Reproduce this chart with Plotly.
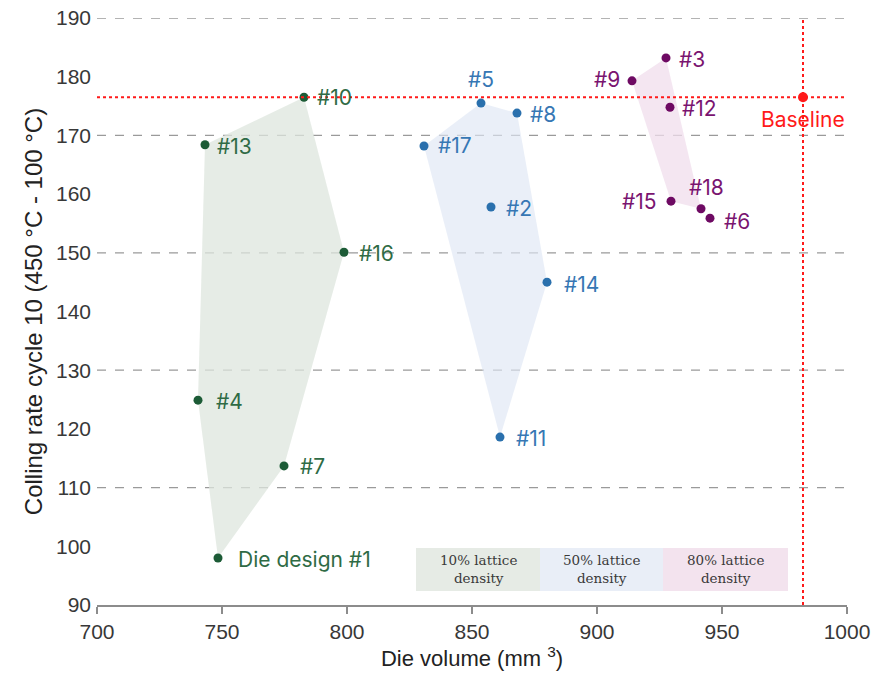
import plotly.graph_objects as go

# Die designs grouped by lattice density: die volume (mm^3) vs cooling rate
green_names = ["#10", "#13", "#16", "#4", "#7", "Die design #1"]
green_x = [782.8, 743.2, 798.8, 740.4, 774.8, 748.4]
green_y = [176.5, 168.4, 150.1, 124.9, 113.7, 98.0]

blue_names = ["#5", "#8", "#17", "#2", "#14", "#11"]
blue_x = [853.6, 868.0, 830.8, 857.6, 880.0, 861.2]
blue_y = [175.5, 173.8, 168.2, 157.8, 145.0, 118.6]

purple_names = ["#3", "#9", "#12", "#15", "#18", "#6"]
purple_x = [927.6, 914.0, 929.2, 929.6, 941.6, 945.2]
purple_y = [183.2, 179.3, 174.8, 158.8, 157.5, 155.9]

baseline_x = 982.4
baseline_y = 176.5

# outline order of each shaded region (indices into the group lists)
green_outline = [5, 4, 2, 0, 1, 3]
blue_outline = [5, 4, 1, 0, 2]
purple_outline = [1, 0, 4, 3]

legend_labels = ["10% lattice<br>density", "50% lattice<br>density", "80% lattice<br>density"]
legend_x = [827.6, 877.2, 926.4, 976.4]
legend_y = [92.4, 99.7]

x_ticks = [700, 750, 800, 850, 900, 950, 1000]
y_ticks = [90, 100, 110, 120, 130, 140, 150, 160, 170, 180, 190]
grid_y = [110, 130, 150, 170, 190]

GREEN, GREEN_TXT, GREEN_FILL = "#1c5b36", "#2f6b45", "rgba(222,230,222,0.75)"
BLUE, BLUE_TXT, BLUE_FILL = "#2a70ad", "#3677b4", "rgba(222,230,244,0.65)"
PURPLE, PURPLE_TXT, PURPLE_FILL = "#6e0a63", "#7a1470", "rgba(240,222,236,0.75)"
RED = "#ff1a1a"
LABEL_FONT = "Inter"
AXIS_FONT = "Liberation Sans"

fig = go.Figure()

# shaded regions
for xs, ys, order, fill in [
    (green_x, green_y, green_outline, GREEN_FILL),
    (blue_x, blue_y, blue_outline, BLUE_FILL),
    (purple_x, purple_y, purple_outline, PURPLE_FILL),
]:
    px = [xs[i] for i in order] + [xs[order[0]]]
    py = [ys[i] for i in order] + [ys[order[0]]]
    fig.add_trace(go.Scatter(x=px, y=py, mode="lines", fill="toself",
                             fillcolor=fill, line=dict(width=0),
                             hoverinfo="skip", showlegend=False))

# density key boxes
legend_fills = ["rgb(230,235,229)", "rgb(233,238,247)", "rgb(243,227,238)"]
for i, lab in enumerate(legend_labels):
    fig.add_shape(type="rect", x0=legend_x[i], x1=legend_x[i + 1],
                  y0=legend_y[0], y1=legend_y[1], fillcolor=legend_fills[i],
                  line=dict(width=0), layer="below")
    fig.add_annotation(x=(legend_x[i] + legend_x[i + 1]) / 2,
                       y=(legend_y[0] + legend_y[1]) / 2, text=lab,
                       showarrow=False,
                       font=dict(family="DejaVu Serif", size=13.5, color="#3a3a3a"))

# horizontal dashed grid
for gy in grid_y:
    fig.add_shape(type="line", xref="paper", x0=0, x1=1, y0=gy, y1=gy,
                  line=dict(color="#9a9a9a", width=1.3, dash="dash"), layer="below")

# baseline reference lines
fig.add_shape(type="line", xref="paper", x0=0, x1=1, y0=baseline_y, y1=baseline_y,
              line=dict(color=RED, width=2, dash="dot"))
fig.add_shape(type="line", yref="paper", y0=0, y1=1, x0=baseline_x, x1=baseline_x,
              line=dict(color=RED, width=2, dash="dot"))

# points
for xs, ys, col in [(green_x, green_y, GREEN), (blue_x, blue_y, BLUE),
                    (purple_x, purple_y, PURPLE)]:
    fig.add_trace(go.Scatter(x=xs, y=ys, mode="markers",
                             marker=dict(color=col, size=9), showlegend=False))
fig.add_trace(go.Scatter(x=[baseline_x], y=[baseline_y], mode="markers",
                         marker=dict(color=RED, size=10), showlegend=False))

# point labels: (xshift, yshift, xanchor)
label_style = {
    "#10": (11, 0, "left"), "#13": (10, -2, "left"), "#16": (13, -1, "left"),
    "#4": (16, -1, "left"), "#7": (14, -1, "left"), "Die design #1": (18, -1, "left"),
    "#5": (0, 24, "center"), "#8": (11, -1, "left"), "#17": (12, 0, "left"),
    "#2": (13, -1, "left"), "#14": (15, -2, "left"), "#11": (14, -1, "left"),
    "#3": (11, -2, "left"), "#9": (-10, 1, "right"), "#12": (10, -1, "left"),
    "#15": (-12, 0, "right"), "#18": (5, 21, "center"), "#6": (12, -3, "left"),
}
for names, xs, ys, col in [(green_names, green_x, green_y, GREEN_TXT),
                           (blue_names, blue_x, blue_y, BLUE_TXT),
                           (purple_names, purple_x, purple_y, PURPLE_TXT)]:
    for n, x, y in zip(names, xs, ys):
        dx, dy, anc = label_style[n]
        fig.add_annotation(x=x, y=y, text=n, showarrow=False, xanchor=anc,
                           xshift=dx, yshift=dy,
                           font=dict(family=LABEL_FONT, size=21, color=col))
fig.add_annotation(x=baseline_x, y=baseline_y, text="Baseline", showarrow=False,
                   xanchor="center", yshift=-22,
                   font=dict(family=LABEL_FONT, size=21, color=RED))

fig.update_layout(
    width=875, height=682,
    margin=dict(l=97, r=28, t=18, b=77),
    plot_bgcolor="white", paper_bgcolor="white",
    font=dict(family=AXIS_FONT, color="#333333"),
    xaxis=dict(range=[700, 1000], tickvals=x_ticks, showgrid=False, zeroline=False,
               automargin=False,
               showline=True, linecolor="#8c8c8c", linewidth=1.5,
               ticks="outside", ticklen=7, tickcolor="#8c8c8c", tickwidth=1.5,
               tickfont=dict(family=AXIS_FONT, size=21, color="#383838"),
               title=dict(text="Die volume (mm <sup>3</sup>)",
                          font=dict(family=AXIS_FONT, size=22, color="#222222"),
                          standoff=6)),
    yaxis=dict(range=[90, 190], tickvals=y_ticks, showgrid=False, zeroline=False,
               automargin=False,
               showline=False, ticks="", ticklabelstandoff=5,
               tickfont=dict(family=AXIS_FONT, size=21, color="#383838"),
               title=dict(text="Colling rate cycle 10 (450 °C - 100 °C)",
                          font=dict(family=AXIS_FONT, size=24, color="#222222"),
                          standoff=6)),
)

fig.write_html("out.html")
